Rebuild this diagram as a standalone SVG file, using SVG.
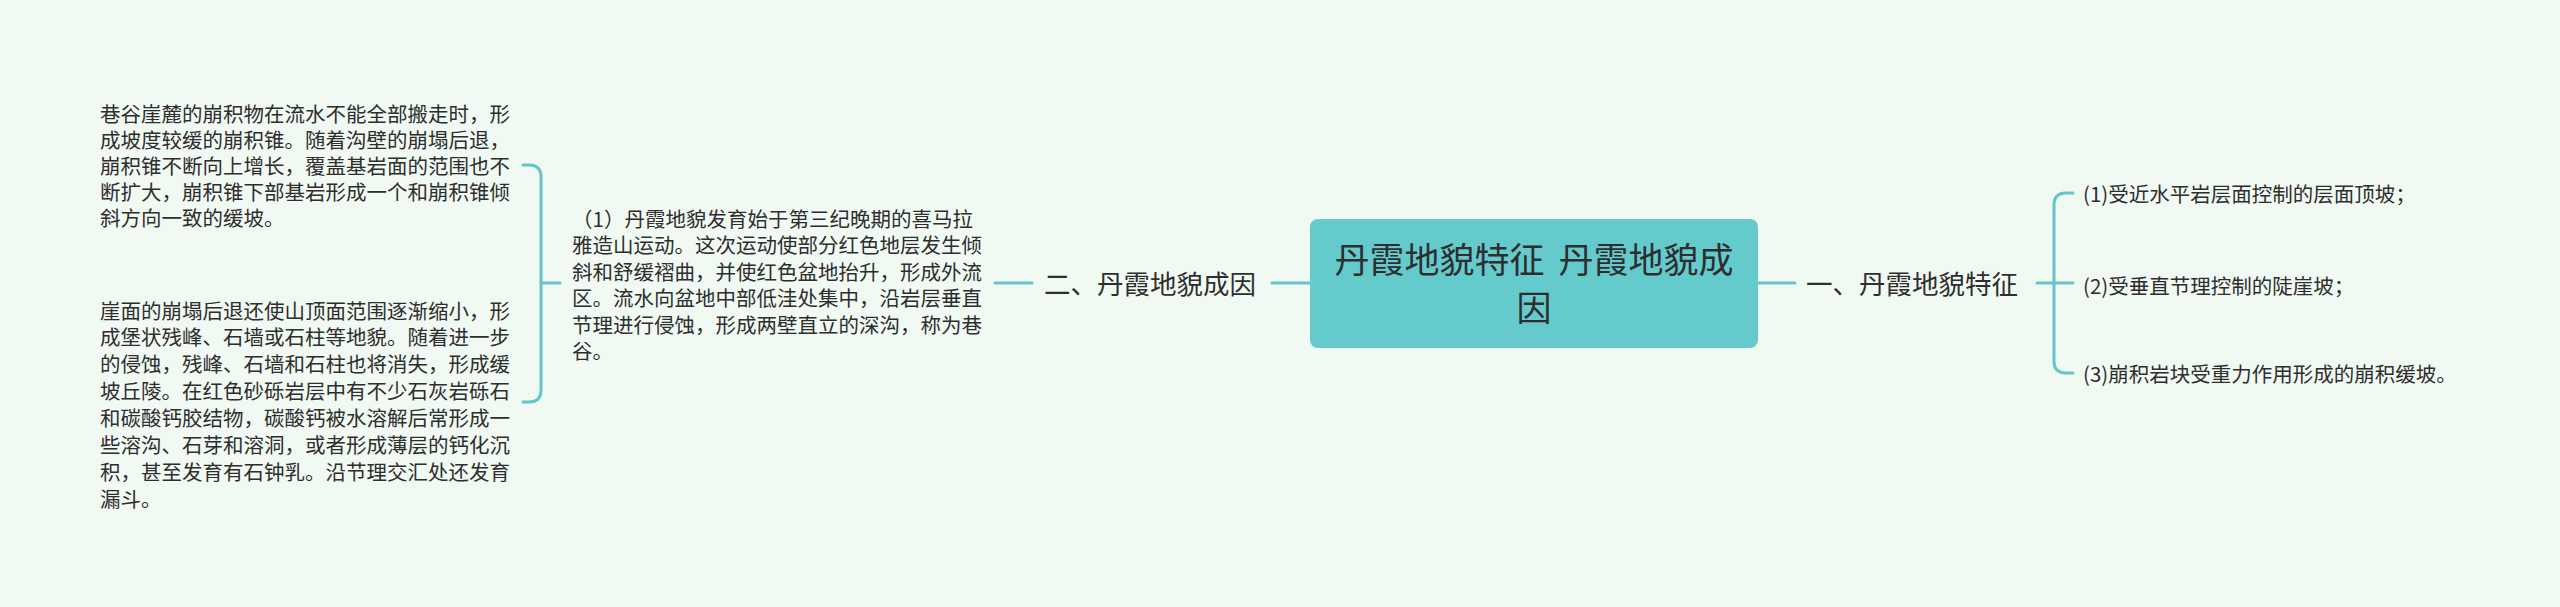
<svg xmlns="http://www.w3.org/2000/svg" width="2560" height="607" viewBox="0 0 2560 607">
<style>
.t{font-family:"Noto Sans CJK SC","Noto Sans",sans-serif;fill:#2e2e2e}
.s{font-size:20.5px}
.m{font-size:26.5px}
.c{font-size:35px}
.ln{fill:none;stroke:#66c5c9;stroke-width:3;stroke-linecap:round;stroke-linejoin:round}
</style>
<rect width="2560" height="607" fill="#f0f9f2"/>
<g id="connectors">
<path class="ln" d="M1758,283 H1795"/>
<path class="ln" d="M2037,283 H2073"/>
<path class="ln" d="M2073,193 H2066 Q2054,193 2054,205 V361 Q2054,373 2066,373 H2073"/>
<path class="ln" d="M1272,283 H1310"/>
<path class="ln" d="M995,283 H1032"/>
<path class="ln" d="M541,283 H560"/>
<path class="ln" d="M523,165 H529 Q541,165 541,177 V390 Q541,402 529,402 H523"/>
</g>
<g id="root">
<rect x="1310" y="219" width="448" height="129" rx="8" fill="#64cacc"/>
<text class="t c" text-anchor="middle" x="1534" y="273">丹霞地貌特征 <tspan dx="6">丹霞地貌成</tspan></text>
<text class="t c" text-anchor="middle" x="1534" y="321">因</text>
</g>
<g id="n-features">
<text class="t m" x="1806" y="294">一、丹霞地貌特征</text>
</g>
<g id="n-f1">
<text class="t s" x="2083" y="202">(1)受近水平岩层面控制的层面顶坡；</text>
</g>
<g id="n-f2">
<text class="t s" x="2083" y="293.5">(2)受垂直节理控制的陡崖坡；</text>
</g>
<g id="n-f3">
<text class="t s" x="2083" y="382">(3)崩积岩块受重力作用形成的崩积缓坡。</text>
</g>
<g id="n-causes">
<text class="t m" x="1044" y="294">二、丹霞地貌成因</text>
</g>
<g id="n-c1">
<text class="t s">
<tspan x="572" y="227">（1）丹霞地貌发育始于第三纪晚期的喜马拉</tspan>
<tspan x="572" y="253.4">雅造山运动。这次运动使部分红色地层发生倾</tspan>
<tspan x="572" y="279.8">斜和舒缓褶曲，并使红色盆地抬升，形成外流</tspan>
<tspan x="572" y="306.2">区。流水向盆地中部低洼处集中，沿岩层垂直</tspan>
<tspan x="572" y="332.6">节理进行侵蚀，形成两壁直立的深沟，称为巷</tspan>
<tspan x="572" y="359">谷。</tspan>
</text>
</g>
<g id="n-c1a">
<text class="t s">
<tspan x="100" y="122">巷谷崖麓的崩积物在流水不能全部搬走时，形</tspan>
<tspan x="100" y="148">成坡度较缓的崩积锥。随着沟壁的崩塌后退，</tspan>
<tspan x="100" y="174">崩积锥不断向上增长，覆盖基岩面的范围也不</tspan>
<tspan x="100" y="200">断扩大，崩积锥下部基岩形成一个和崩积锥倾</tspan>
<tspan x="100" y="226">斜方向一致的缓坡。</tspan>
</text>
</g>
<g id="n-c1b">
<text class="t s">
<tspan x="100" y="318.5">崖面的崩塌后退还使山顶面范围逐渐缩小，形</tspan>
<tspan x="100" y="345.4">成堡状残峰、石墙或石柱等地貌。随着进一步</tspan>
<tspan x="100" y="372.3">的侵蚀，残峰、石墙和石柱也将消失，形成缓</tspan>
<tspan x="100" y="399.2">坡丘陵。在红色砂砾岩层中有不少石灰岩砾石</tspan>
<tspan x="100" y="426.1">和碳酸钙胶结物，碳酸钙被水溶解后常形成一</tspan>
<tspan x="100" y="453">些溶沟、石芽和溶洞，或者形成薄层的钙化沉</tspan>
<tspan x="100" y="479.9">积，甚至发育有石钟乳。沿节理交汇处还发育</tspan>
<tspan x="100" y="506.8">漏斗。</tspan>
</text>
</g>
</svg>
